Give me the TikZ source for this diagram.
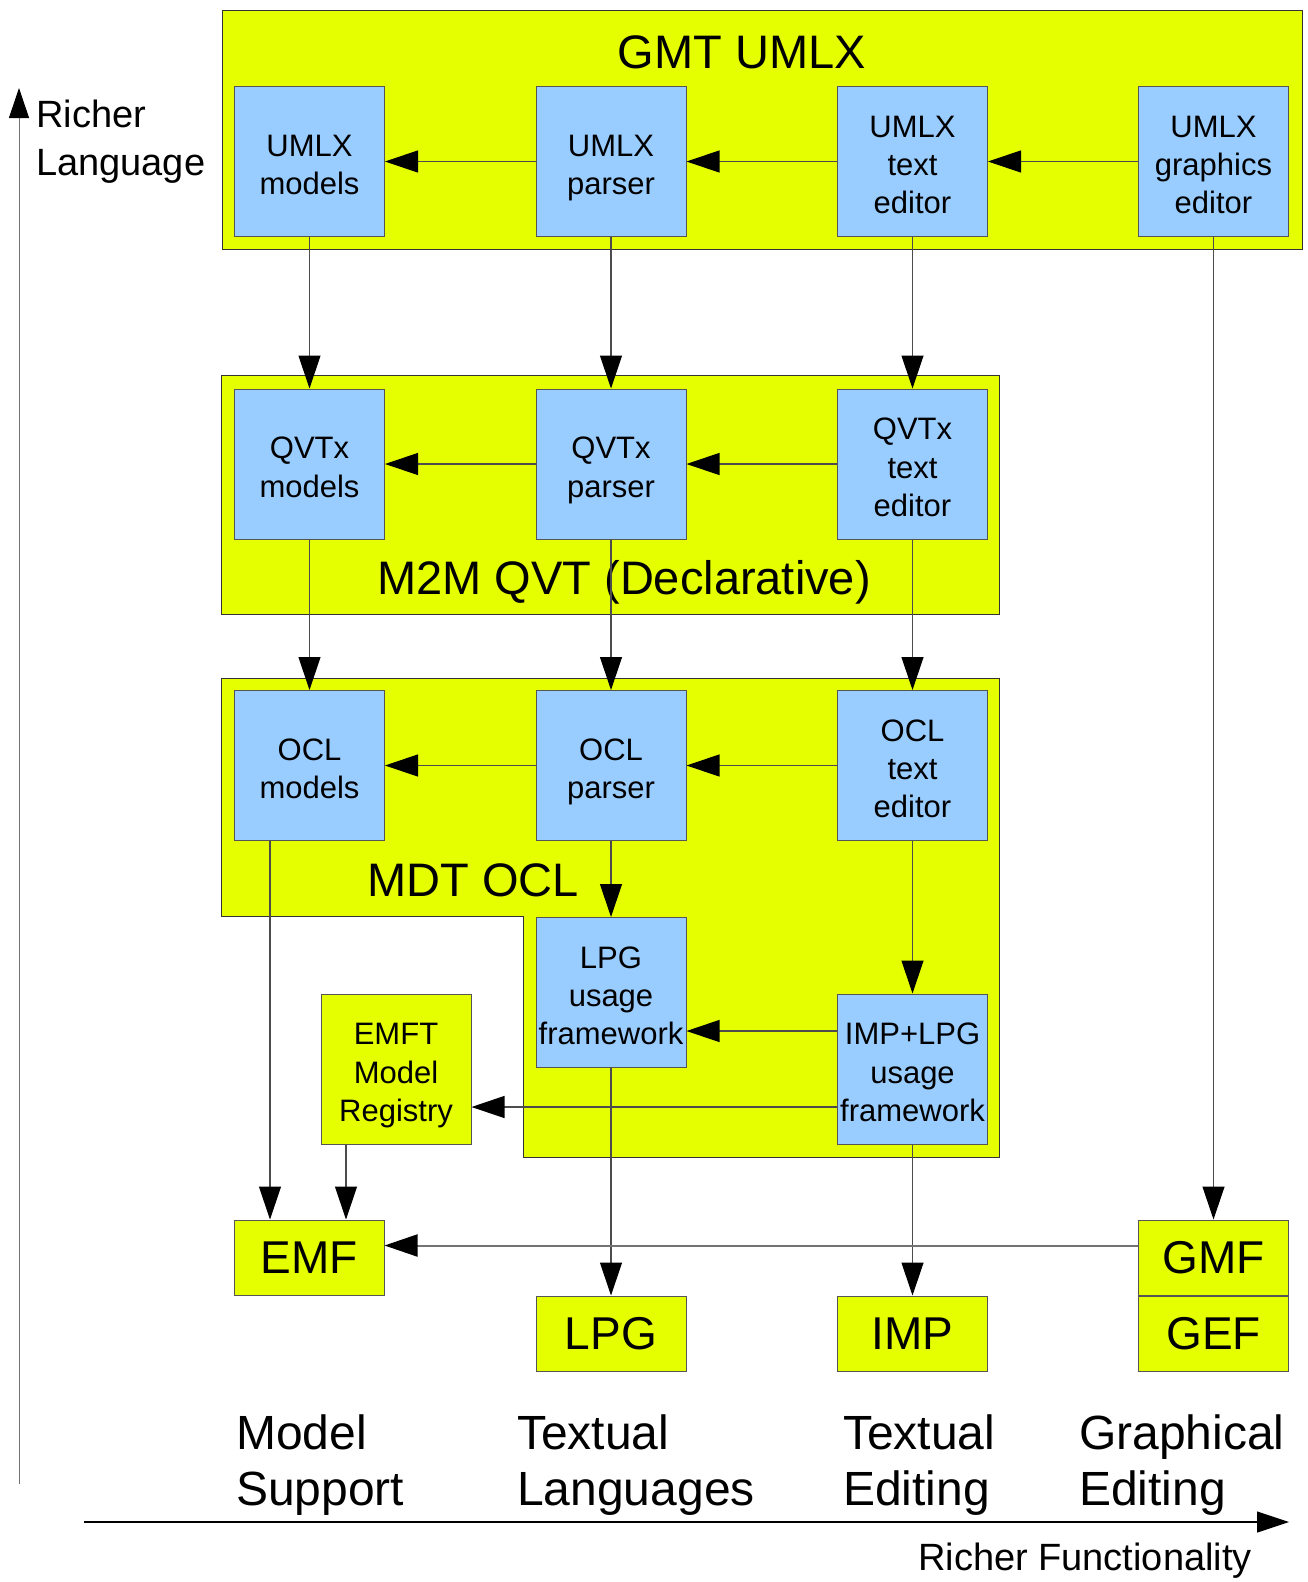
\documentclass[tikz,border=0pt]{standalone}
\usepackage{fontspec}
\setmainfont{Liberation Sans}
\usetikzlibrary{arrows.meta}
\definecolor{umlyellow}{HTML}{E6FF00}
\definecolor{umlblue}{HTML}{99CCFF}
\definecolor{edgegray}{HTML}{555555}
\newcommand{\topstrut}{\rule{0pt}{35pt}}
\newcommand{\botstrut}{\rule[-7pt]{0pt}{7pt}}
\begin{document}
\begin{tikzpicture}[x=1pt,y=-1pt,
  umlgroup/.style={draw=black!80,fill=umlyellow,line width=1pt},
  grouptitle/.style={anchor=base,inner sep=0pt,font=\fontsize{47}{52}\selectfont},
  tool/.style={draw=edgegray,fill=umlblue,line width=1pt,minimum width=150pt,minimum height=150pt,inner sep=1pt,align=center,font=\fontsize{31}{38.4}\selectfont},
  platform/.style={draw=edgegray,fill=umlyellow,line width=1pt,minimum width=150pt,minimum height=75pt,inner sep=1pt,font=\fontsize{46}{50}\selectfont},
  flow/.style={draw=black!70,line width=1.2pt,-{Triangle[length=33pt,width=22pt,color=black]}},
  axislabel/.style={anchor=north west,inner sep=0pt,align=left,font=\fontsize{38}{47.5}\selectfont},
  catlabel/.style={anchor=north west,inner sep=0pt,align=left,font=\fontsize{48}{55.5}\selectfont}]
\useasboundingbox (0,0) rectangle (1307,1582);
% --- axes ---
\coordinate (ylow) at (19,1484);
\coordinate (ytop) at (19,88);
\draw[draw=black!55,line width=1pt,-{Triangle[length=30pt,width=20pt,color=black]}] (ylow) -- (ytop);
\node[axislabel] (ylabel) at (36,100) {Richer\\Language};
\coordinate (xlow) at (84,1522);
\coordinate (xtop) at (1289,1522);
\draw[line width=1.2pt,-{Triangle[length=32pt,width=21pt]}] (xlow) -- (xtop);
\node[axislabel] (xlabel) at (918,1543) {Richer Functionality};
% --- GMT UMLX ---
\draw[umlgroup] (222,10) rectangle (1302,249);
\node[grouptitle] (gmttitle) at (742,68) {GMT UMLX};
\node[tool] (umlxmodels) at (309.5,161.5) {\topstrut UMLX\\models\botstrut};
\node[tool] (umlxparser) at (611,161.5) {\topstrut UMLX\\parser\botstrut};
\node[tool] (umlxtext) at (912.5,161.5) {\topstrut UMLX\\text\\editor\botstrut};
\node[tool] (umlxgraph) at (1213.5,161.5) {\topstrut UMLX\\graphics\\editor\botstrut};
% --- M2M QVT ---
\draw[umlgroup] (221,375) rectangle (999,614);
\node[grouptitle] (qvttitle) at (624,594) {M2M QVT (Declarative)};
\node[tool] (qvtmodels) at (309.5,464) {\topstrut QVTx\\models\botstrut};
\node[tool] (qvtparser) at (611,464) {\topstrut QVTx\\parser\botstrut};
\node[tool] (qvttext) at (912.5,464) {\topstrut QVTx\\text\\editor\botstrut};
% --- MDT OCL ---
\draw[umlgroup] (221,678) -- (999,678) -- (999,1157) -- (523,1157) -- (523,916) -- (221,916) -- cycle;
\node[grouptitle] (ocltitle) at (473,896) {MDT OCL};
\node[tool] (oclmodels) at (309.5,765.5) {\topstrut OCL\\models\botstrut};
\node[tool] (oclparser) at (611,765.5) {\topstrut OCL\\parser\botstrut};
\node[tool] (ocltext) at (912.5,765.5) {\topstrut OCL\\text\\editor\botstrut};
\node[tool] (lpgusage) at (611,992.5) {\topstrut LPG\\usage\\framework\botstrut};
\node[tool] (implpg) at (912.5,1069) {\topstrut IMP+LPG\\usage\\framework\botstrut};
\node[tool,fill=umlyellow] (emft) at (396,1069) {\topstrut EMFT\\Model\\Registry\botstrut};
% --- platforms ---
\node[platform] (emf) at (309,1257.5) {EMF};
\node[platform] (lpg) at (611,1333.5) {LPG};
\node[platform] (imp) at (912.5,1333.5) {IMP};
\node[platform] (gmf) at (1213.5,1257.5) {GMF};
\node[platform] (gef) at (1213.5,1333.5) {GEF};
% --- connectors ---
\draw[flow] (umlxparser) -- (umlxmodels);
\draw[flow] (umlxtext) -- (umlxparser);
\draw[flow] (umlxgraph) -- (umlxtext);
\draw[flow] (qvtparser) -- (qvtmodels);
\draw[flow] (qvttext) -- (qvtparser);
\draw[flow] (oclparser) -- (oclmodels);
\draw[flow] (ocltext) -- (oclparser);
\draw[flow] (umlxmodels) -- (qvtmodels);
\draw[flow] (umlxparser) -- (qvtparser);
\draw[flow] (umlxtext) -- (qvttext);
\draw[flow] (qvtmodels) -- (oclmodels);
\draw[flow] (qvtparser) -- (oclparser);
\draw[flow] (qvttext) -- (ocltext);
\draw[flow] (oclparser) -- (lpgusage);
\draw[flow] (ocltext) -- (implpg);
\draw[flow] ([yshift=38pt]implpg.west) coordinate (t1) -- (t1 -| lpgusage.east);
\draw[flow] ([yshift=-38pt]implpg.west) coordinate (t2) -- (t2 -| emft.east);
\draw[flow] ([xshift=-39.5pt]oclmodels.south) coordinate (t3) -- (t3 |- emf.north);
\draw[flow] ([xshift=-50pt]emft.south) coordinate (t4) -- (t4 |- emf.north);
\draw[flow] (lpgusage) -- (lpg);
\draw[flow] (implpg) -- (imp);
\draw[flow] (umlxgraph) -- (gmf);
\draw[flow,draw=black!55,line width=2pt] ([yshift=12pt]gmf.west) coordinate (t5) -- (t5 -| emf.east);
% --- categories ---
\node[catlabel] (modelsupport) at (236,1415) {Model\\Support};
\node[catlabel] (textlang) at (517,1415) {Textual\\Languages};
\node[catlabel] (textedit) at (843,1415) {Textual\\Editing};
\node[catlabel] (graphedit) at (1079,1415) {Graphical\\Editing};
\end{tikzpicture}
\end{document}
